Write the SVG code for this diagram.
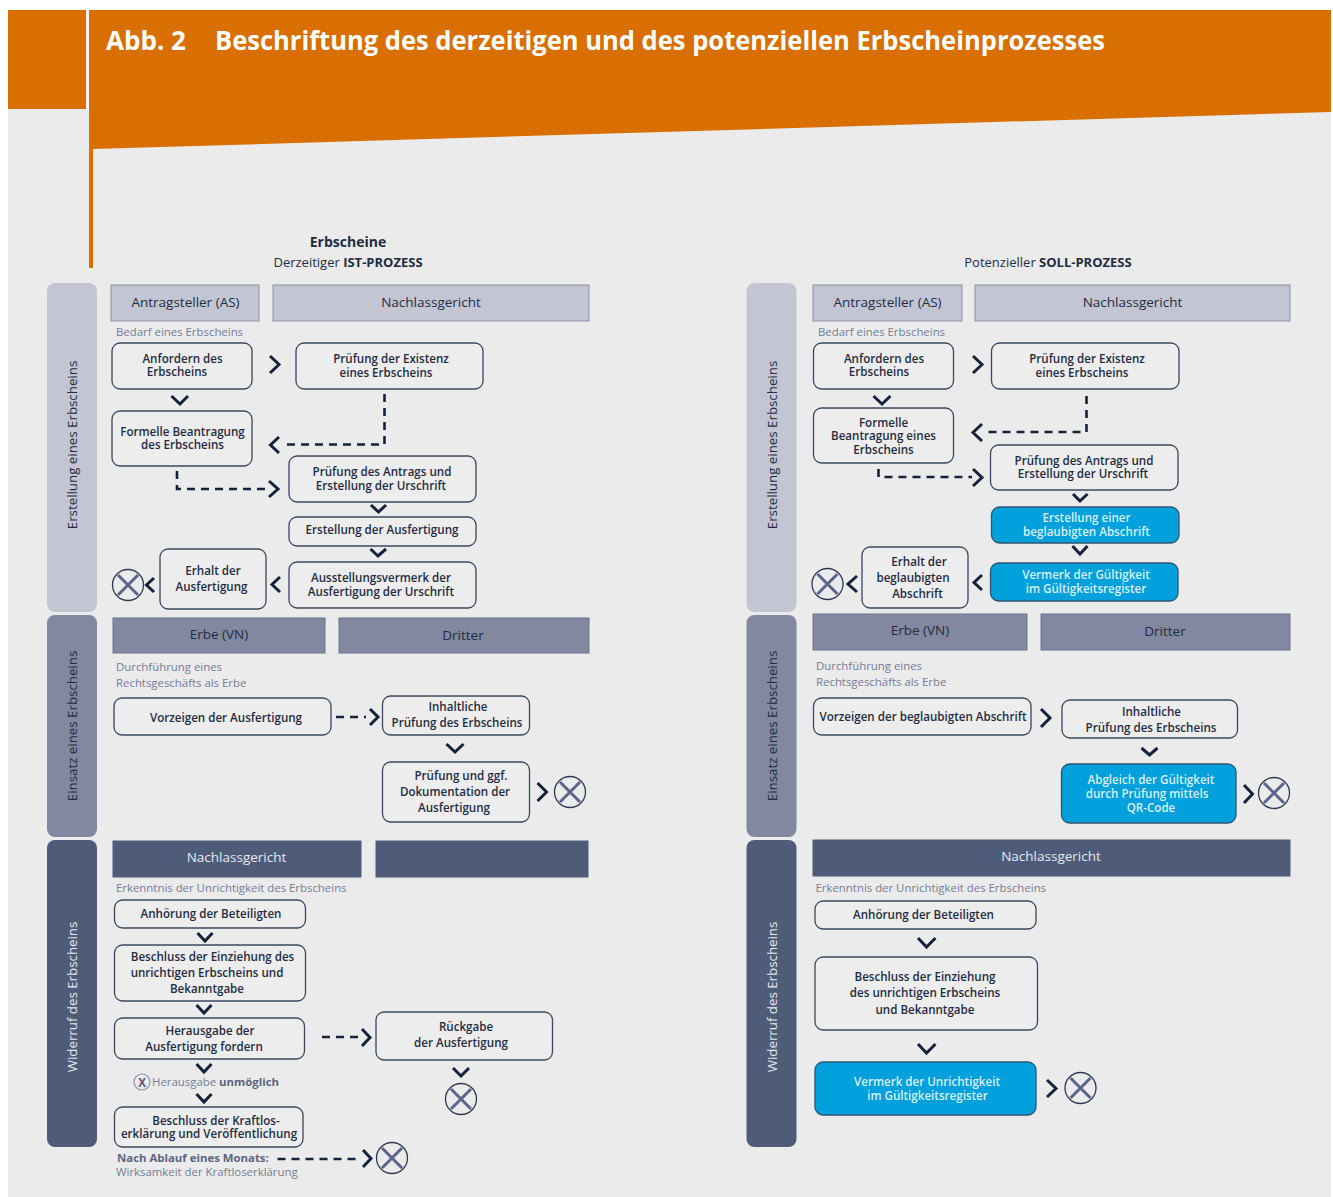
<svg xmlns="http://www.w3.org/2000/svg" width="1333" height="1197" viewBox="0 0 1333 1197">
<style>
text{font-family:"Open Sans","Noto Sans",sans-serif;font-size:11.6px;font-weight:600;fill:#1f2c42;text-anchor:middle}
.title{font-size:27px;font-weight:700;fill:#fff;text-anchor:start}
.hd{font-size:13.5px;font-weight:500}
.cap{font-size:13px;font-weight:500}
.b{font-weight:700}
.sub{font-size:11.4px;fill:#747c97;text-anchor:start;font-weight:400}
.subb{fill:#5a6482;font-weight:700}
.w{fill:#d9f0f9}
.band{font-size:13.3px;font-weight:500}
.hw{fill:#e6e9ef}
.box{fill:#ededed;stroke:#3a4860;stroke-width:1.3}
.blue{fill:#00a0dc;stroke:#2f5570;stroke-width:1.3}
.h1{fill:#c3c5d3;stroke:#8c90a6;stroke-width:1}
.h2{fill:#82889f;stroke:#6c728c;stroke-width:1}
.h3{fill:#4f5c79;stroke:#4f5c79;stroke-width:1}
.chev{fill:none;stroke:#14233b;stroke-width:3}
.dash{fill:none;stroke:#14233b;stroke-width:2.6;stroke-dasharray:8 6}
.ring{fill:none;stroke:#2f3a52;stroke-width:1.3}
.cross{stroke:#59648a;stroke-width:3;fill:none}
</style>
<defs>
<g id="end"><circle class="ring" r="15.5"/><path class="cross" d="M-10,-10L10,10M-10,10L10,-10"/></g>
</defs>
<rect x="8" y="10" width="1323" height="1187" fill="#ebebeb"/>
<rect x="86" y="10" width="3" height="100" fill="#f4f4f4"/>
<rect x="8" y="10" width="78" height="99" fill="#d96f00"/>
<path d="M89,10H1331V112L93,149V268H89Z" fill="#d96f00"/>
<text class="title" x="106" y="50" textLength="80" lengthAdjust="spacingAndGlyphs">Abb. 2</text>
<text class="title" x="215" y="50" textLength="890" lengthAdjust="spacingAndGlyphs">Beschriftung des derzeitigen und des potenziellen Erbscheinprozesses</text>
<text x="348" y="247" class="b" style="font-size:14px">Erbscheine</text>
<text x="348" y="267" class="cap">Derzeitiger <tspan class="b">IST-PROZESS</tspan></text>
<text x="1048" y="267" class="cap">Potenzieller <tspan class="b">SOLL-PROZESS</tspan></text>

<g id="band-l1"><rect x="47" y="283" width="50" height="329" rx="8" fill="#c3c5d3"/><text class="band" transform="translate(77,445) rotate(-90)">Erstellung eines Erbscheins</text></g>
<g id="band-l2"><rect x="47" y="615" width="50" height="222" rx="8" fill="#82889f"/><text class="band" transform="translate(77,726) rotate(-90)">Einsatz eines Erbscheins</text></g>
<g id="band-l3"><rect x="47" y="840" width="50" height="307" rx="8" fill="#4f5c79"/><text class="band hw" transform="translate(77,997) rotate(-90)">Widerruf des Erbscheins</text></g>
<g id="band-r1"><rect x="746.500" y="283" width="50" height="329" rx="8" fill="#c3c5d3"/><text class="band" transform="translate(777,445) rotate(-90)">Erstellung eines Erbscheins</text></g>
<g id="band-r2"><rect x="746.500" y="615" width="50" height="222" rx="8" fill="#82889f"/><text class="band" transform="translate(777,726) rotate(-90)">Einsatz eines Erbscheins</text></g>
<g id="band-r3"><rect x="746.500" y="840" width="50" height="307" rx="8" fill="#4f5c79"/><text class="band hw" transform="translate(777,997) rotate(-90)">Widerruf des Erbscheins</text></g>

<g id="hd-l-as"><rect class="h1" x="111" y="285" width="148" height="36"/><text class="hd" x="185.500" y="307">Antragsteller (AS)</text></g>
<g id="hd-l-ng"><rect class="h1" x="273" y="285" width="316" height="36"/><text class="hd" x="431" y="307">Nachlassgericht</text></g>
<g id="hd-l-erbe"><rect class="h2" x="113" y="618" width="212" height="35"/><text class="hd" x="219" y="639">Erbe (VN)</text></g>
<g id="hd-l-dritter"><rect class="h2" x="339" y="618" width="250" height="35"/><text class="hd" x="463" y="640">Dritter</text></g>
<g id="hd-l-ng2"><rect class="h3" x="113" y="841" width="248" height="36"/><text class="hd hw" x="236.500" y="862">Nachlassgericht</text></g>
<g id="hd-l-empty"><rect class="h3" x="376" y="841" width="212" height="36"/></g>
<g id="hd-r-as"><rect class="h1" x="813" y="285" width="149" height="36"/><text class="hd" x="887.500" y="307">Antragsteller (AS)</text></g>
<g id="hd-r-ng"><rect class="h1" x="975" y="285" width="315" height="36"/><text class="hd" x="1132.500" y="307">Nachlassgericht</text></g>
<g id="hd-r-erbe"><rect class="h2" x="813" y="614" width="214" height="36"/><text class="hd" x="920" y="635">Erbe (VN)</text></g>
<g id="hd-r-dritter"><rect class="h2" x="1041" y="614" width="249" height="36"/><text class="hd" x="1165" y="636">Dritter</text></g>
<g id="hd-r-ng2"><rect class="h3" x="813" y="840" width="477" height="36"/><text class="hd hw" x="1051" y="861">Nachlassgericht</text></g>

<text class="sub" x="116" y="336">Bedarf eines Erbscheins</text>
<text class="sub"><tspan x="116" y="671">Durchführung eines</tspan><tspan x="116" y="687">Rechtsgeschäfts als Erbe</tspan></text>
<text class="sub" x="116" y="892">Erkenntnis der Unrichtigkeit des Erbscheins</text>
<text class="sub" x="152" y="1086">Herausgabe <tspan class="subb">unmöglich</tspan></text>
<text class="sub"><tspan class="subb" x="117" y="1162">Nach Ablauf eines Monats:</tspan><tspan x="116" y="1176">Wirksamkeit der Kraftloserklärung</tspan></text>
<text class="sub" x="818" y="336">Bedarf eines Erbscheins</text>
<text class="sub"><tspan x="816" y="670">Durchführung eines</tspan><tspan x="816" y="686">Rechtsgeschäfts als Erbe</tspan></text>
<text class="sub" x="815.500" y="892">Erkenntnis der Unrichtigkeit des Erbscheins</text>

<g id="connectors">
<path class="chev" d="M270,356L279,364.500L270,373"/>
<path class="chev" d="M171.500,396L180,404L188,396"/>
<path class="dash" d="M384.500,394V444.500H282"/>
<path class="chev" d="M279,437L270.500,445L279,453"/>
<path class="dash" d="M177,471V489H270"/>
<path class="chev" d="M269,481L278,489L269,497"/>
<path class="chev" d="M371,505L378.500,512L386,505"/>
<path class="chev" d="M370.500,549L378,556L386,549"/>
<path class="chev" d="M280,577L272,584.500L280,592"/>
<path class="chev" d="M154,578L146.500,585L154,592"/>
<path class="dash" d="M336,717H366"/>
<path class="chev" d="M370,709L378,717L370,725"/>
<path class="chev" d="M446.500,744L455,752L463.500,744"/>
<path class="chev" d="M537.500,783L546.500,792L537.500,801"/>
<path class="chev" d="M197.500,933L205,941L212.500,933"/>
<path class="chev" d="M196.500,1005L204,1013L211.500,1005"/>
<path class="chev" d="M196.500,1064L204,1072L211.500,1064"/>
<path class="chev" d="M196.500,1094L204,1102L211.500,1094"/>
<path class="dash" d="M322,1037H358"/>
<path class="chev" d="M362,1029L370,1037.500L362,1046"/>
<path class="chev" d="M453,1068L461,1076L469,1068"/>
<path class="dash" d="M277.500,1159H360"/>
<path class="chev" d="M363,1150L371,1158.500L363,1167"/>
<path class="chev" d="M973,356L982,364.500L973,373"/>
<path class="chev" d="M873.500,396L882,404L890.500,396"/>
<path class="dash" d="M1086.500,396V432H985"/>
<path class="chev" d="M982,424L973,432.500L982,441"/>
<path class="dash" d="M878.500,469V477H972"/>
<path class="chev" d="M973,469L982,477.500L973,486"/>
<path class="chev" d="M1073,494L1080,501L1087.500,494"/>
<path class="chev" d="M1072.500,546L1080,554L1087.500,546"/>
<path class="chev" d="M982,575L974,582.500L982,590"/>
<path class="chev" d="M857,576L848,584L857,592"/>
<path class="chev" d="M1041,709L1050,718L1041,727"/>
<path class="chev" d="M1141.500,748L1149.500,755L1157.500,748"/>
<path class="chev" d="M1244,785L1252.500,794L1244,803"/>
<path class="chev" d="M918,938L926.500,947L935.500,938"/>
<path class="chev" d="M918,1044L926.500,1053L935.500,1044"/>
<path class="chev" d="M1047,1080L1056,1088.500L1047,1097"/>
</g>

<g id="n-l-anfordern"><rect class="box" x="112" y="343" width="140" height="46" rx="8"/><text><tspan x="182.500" y="362.500">Anfordern des</tspan><tspan x="177" y="375.500">Erbscheins</tspan></text></g>
<g id="n-l-existenz"><rect class="box" x="296" y="343" width="187" height="46" rx="8"/><text><tspan x="391" y="362.500">Prüfung der Existenz</tspan><tspan x="386" y="376.500">eines Erbscheins</tspan></text></g>
<g id="n-l-formelle"><rect class="box" x="112" y="411" width="140" height="55" rx="8"/><text><tspan x="182.500" y="435.500">Formelle Beantragung</tspan><tspan x="182.500" y="448.500">des Erbscheins</tspan></text></g>
<g id="n-l-antrag"><rect class="box" x="289" y="456" width="187" height="46" rx="8"/><text><tspan x="382" y="475.500">Prüfung des Antrags und</tspan><tspan x="381" y="489.500">Erstellung der Urschrift</tspan></text></g>
<g id="n-l-ausf"><rect class="box" x="289" y="517" width="187" height="29" rx="8"/><text x="382" y="533.500">Erstellung der Ausfertigung</text></g>
<g id="n-l-vermerk"><rect class="box" x="289" y="562" width="187" height="46" rx="8"/><text><tspan x="381" y="581.500">Ausstellungsvermerk der</tspan><tspan x="381" y="595.500">Ausfertigung der Urschrift</tspan></text></g>
<g id="n-l-erhalt"><rect class="box" x="160" y="549" width="106" height="60" rx="8"/><text><tspan x="213" y="574.500">Erhalt der</tspan><tspan x="211.500" y="590.500">Ausfertigung</tspan></text></g>
<g id="end-l1"><use href="#end" x="128" y="585"/></g>
<g id="n-l-vorzeigen"><rect class="box" x="114" y="698" width="217" height="37" rx="8"/><text x="226" y="722">Vorzeigen der Ausfertigung</text></g>
<g id="n-l-inhalt"><rect class="box" x="382.500" y="696" width="147" height="39" rx="8"/><text><tspan x="458" y="711">Inhaltliche</tspan><tspan x="457" y="727">Prüfung des Erbscheins</tspan></text></g>
<g id="n-l-doku"><rect class="box" x="382.500" y="762" width="147" height="60" rx="8"/><text><tspan x="461" y="779.500">Prüfung und ggf.</tspan><tspan x="455" y="795.500">Dokumentation der</tspan><tspan x="454" y="811.500">Ausfertigung</tspan></text></g>
<g id="end-l2"><use href="#end" x="570" y="792"/></g>
<g id="n-l-anhoerung"><rect class="box" x="114.500" y="900" width="191" height="28" rx="8"/><text x="211" y="917.500">Anhörung der Beteiligten</text></g>
<g id="n-l-beschluss"><rect class="box" x="114.500" y="945" width="191" height="56" rx="8"/><text><tspan x="212.500" y="960.500">Beschluss der Einziehung des</tspan><tspan x="207" y="976.500">unrichtigen Erbscheins und</tspan><tspan x="207" y="992.500">Bekanntgabe</tspan></text></g>
<g id="n-l-herausgabe"><rect class="box" x="114.500" y="1018" width="190" height="41" rx="8"/><text><tspan x="210" y="1034.500">Herausgabe der</tspan><tspan x="204" y="1050.500">Ausfertigung fordern</tspan></text></g>
<g id="n-l-rueckgabe"><rect class="box" x="376" y="1012" width="176.500" height="48" rx="8"/><text><tspan x="466" y="1031">Rückgabe</tspan><tspan x="461" y="1047">der Ausfertigung</tspan></text></g>
<g id="end-l3"><use href="#end" x="461" y="1099"/></g>
<g id="n-l-unmoeglich"><circle cx="142" cy="1082" r="8" fill="none" stroke="#8a91aa" stroke-width="1.200"/><text x="142" y="1086.500" class="b" style="fill:#4f5c79">X</text></g>
<g id="n-l-kraftlos"><rect class="box" x="114.500" y="1107" width="188.500" height="40" rx="8"/><text><tspan x="216" y="1124.500">Beschluss der Kraftlos-</tspan><tspan x="209" y="1137.500">erklärung und Veröffentlichung</tspan></text></g>
<g id="end-l4"><use href="#end" x="392" y="1158"/></g>

<g id="n-r-anfordern"><rect class="box" x="813.500" y="343" width="140" height="46" rx="8"/><text><tspan x="884" y="362.500">Anfordern des</tspan><tspan x="879" y="375.500">Erbscheins</tspan></text></g>
<g id="n-r-existenz"><rect class="box" x="991.500" y="343" width="187.500" height="46" rx="8"/><text><tspan x="1087" y="362.500">Prüfung der Existenz</tspan><tspan x="1082" y="376.500">eines Erbscheins</tspan></text></g>
<g id="n-r-formelle"><rect class="box" x="813.500" y="408" width="140" height="55" rx="8"/><text><tspan x="883.500" y="426.500">Formelle</tspan><tspan x="883.500" y="440">Beantragung eines</tspan><tspan x="883.500" y="453.500">Erbscheins</tspan></text></g>
<g id="n-r-antrag"><rect class="box" x="990.500" y="445" width="187.500" height="45" rx="8"/><text><tspan x="1084" y="464.500">Prüfung des Antrags und</tspan><tspan x="1083" y="477.500">Erstellung der Urschrift</tspan></text></g>
<g id="n-r-abschrift"><rect class="blue" x="991.500" y="507" width="187.500" height="36" rx="8"/><text class="w"><tspan x="1086.500" y="521.500">Erstellung einer</tspan><tspan x="1086.500" y="535.500">beglaubigten Abschrift</tspan></text></g>
<g id="n-r-vermerk"><rect class="blue" x="990.500" y="563" width="187.500" height="38" rx="8"/><text class="w"><tspan x="1086" y="578.500">Vermerk der Gültigkeit</tspan><tspan x="1086" y="592.500">im Gültigkeitsregister</tspan></text></g>
<g id="n-r-erhalt"><rect class="box" x="862" y="547" width="106" height="61" rx="8"/><text><tspan x="919" y="565.500">Erhalt der</tspan><tspan x="913" y="581.500">beglaubigten</tspan><tspan x="917.500" y="597.500">Abschrift</tspan></text></g>
<g id="end-r1"><use href="#end" x="827.500" y="584"/></g>
<g id="n-r-vorzeigen"><rect class="box" x="813.500" y="698" width="217.500" height="37" rx="8"/><text x="923" y="721">Vorzeigen der beglaubigten Abschrift</text></g>
<g id="n-r-inhalt"><rect class="box" x="1062" y="700" width="175.500" height="38" rx="8"/><text><tspan x="1151.500" y="715.500">Inhaltliche</tspan><tspan x="1151" y="731.500">Prüfung des Erbscheins</tspan></text></g>
<g id="n-r-abgleich"><rect class="blue" x="1061.500" y="764" width="174.500" height="59" rx="8"/><text class="w"><tspan x="1151" y="783.500">Abgleich der Gültigkeit</tspan><tspan x="1147" y="797.500">durch Prüfung mittels</tspan><tspan x="1151" y="811.500">QR-Code</tspan></text></g>
<g id="end-r2"><use href="#end" x="1274" y="793"/></g>
<g id="n-r-anhoerung"><rect class="box" x="815" y="901" width="221" height="28" rx="8"/><text x="923.500" y="919">Anhörung der Beteiligten</text></g>
<g id="n-r-beschluss"><rect class="box" x="815" y="957" width="222.500" height="73" rx="8"/><text><tspan x="925" y="980.500">Beschluss der Einziehung</tspan><tspan x="925" y="997">des unrichtigen Erbscheins</tspan><tspan x="925" y="1013.500">und Bekanntgabe</tspan></text></g>
<g id="n-r-unrichtig"><rect class="blue" x="815" y="1062" width="221" height="53" rx="8"/><text class="w"><tspan x="927" y="1085.500">Vermerk der Unrichtigkeit</tspan><tspan x="927.500" y="1099.500">im Gültigkeitsregister</tspan></text></g>
<g id="end-r3"><use href="#end" x="1080.500" y="1088"/></g>
</svg>
